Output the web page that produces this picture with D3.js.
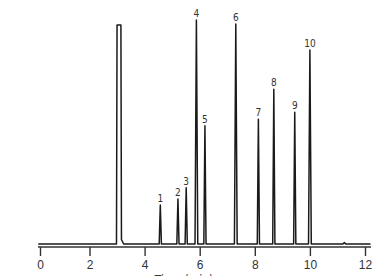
<!DOCTYPE html>
<html>
<head>
<meta charset="utf-8">
<script src="https://cdn.jsdelivr.net/npm/d3@7"></script>
<style>
  body { margin: 0; background: #fff; }
  text { font-family: "Liberation Sans Narrow", "Arial Narrow", "DejaVu Sans Condensed", sans-serif; fill: #333; }
</style>
</head>
<body>
<svg id="chart" width="389" height="276"></svg>
<script>
// Peak table (retention time in min, relative response)
const peakLabels = ["1", "2", "3", "4", "5", "6", "7", "8", "9", "10"];
const retentionTimes = [4.57, 5.21, 5.51, 5.88, 6.19, 7.31, 8.13, 8.69, 9.45, 10.0];
const peakHeights = [17.4, 20.1, 25.1, 100, 52.8, 98.2, 55.7, 69.1, 58.8, 86.6];
const peakHalfWidths = [0.04, 0.04, 0.04, 0.05, 0.04, 0.05, 0.04, 0.04, 0.04, 0.05];

// Solvent front (clipped, flat top)
const solventTrace = [[2.98, 0], [3.0, 97.8], [3.14, 97.8], [3.16, 2], [3.24, 0]];

// Small bump near the end of the run
const tailTrace = [[11.2, 0], [11.25, 0.6], [11.3, 0]];

const runStart = 0, runEnd = 12.2;
const xTicks = [0, 2, 4, 6, 8, 10, 12];

const svg = d3.select("#chart");

// Ticks in the original are not evenly spaced between 0 and 2
const x = d3.scaleLinear()
    .domain([0, 2, 12])
    .range([40, 89.5, 365]);

const y = d3.scaleLinear()
    .domain([0, 100])
    .range([244, 20]);

// Build the trace vertices from the peak table
let trace = [[runStart - 0.07, 0]];
trace = trace.concat(solventTrace);
retentionTimes.forEach((rt, i) => {
  trace.push([rt - peakHalfWidths[i], 0]);
  trace.push([rt, peakHeights[i]]);
  trace.push([rt + peakHalfWidths[i], 0]);
});
trace = trace.concat(tailTrace);
trace.push([runEnd, 0]);

const line = d3.line()
    .x(d => x(d[0]))
    .y(d => y(d[1]));

svg.append("path")
    .datum(trace)
    .attr("fill", "none")
    .attr("stroke", "#1a1a1a")
    .attr("stroke-width", 1.5)
    .attr("stroke-linejoin", "round")
    .attr("d", line);

// Peak numbers
svg.selectAll(".peak-label")
  .data(peakLabels)
  .enter()
  .append("text")
    .attr("class", "peak-label")
    .attr("x", (d, i) => x(retentionTimes[i]))
    .attr("y", (d, i) => y(peakHeights[i]) - 3)
    .attr("text-anchor", "middle")
    .attr("font-size", 10)
    .text(d => d);

// X axis
const axis = svg.append("g")
    .attr("transform", "translate(0,247)")
    .call(d3.axisBottom(x).tickValues(xTicks).tickSize(9).tickSizeOuter(0).tickPadding(4));

axis.select(".domain")
    .attr("d", `M38,0H371`)
    .attr("stroke", "#333")
    .attr("stroke-width", 1.4);
axis.selectAll(".tick line")
    .attr("stroke", "#333")
    .attr("stroke-width", 1.4);
axis.selectAll(".tick text")
    .attr("font-size", 12)
    .attr("fill", "#333")
    .style("font-family", "'Liberation Sans Narrow', 'Arial Narrow', sans-serif");

// Axis title (cut off at the bottom edge, as in the original)
svg.append("text")
    .attr("x", 184)
    .attr("y", 284)
    .attr("text-anchor", "middle")
    .attr("font-size", 12)
    .text("Time (min)");
</script>
</body>
</html>
